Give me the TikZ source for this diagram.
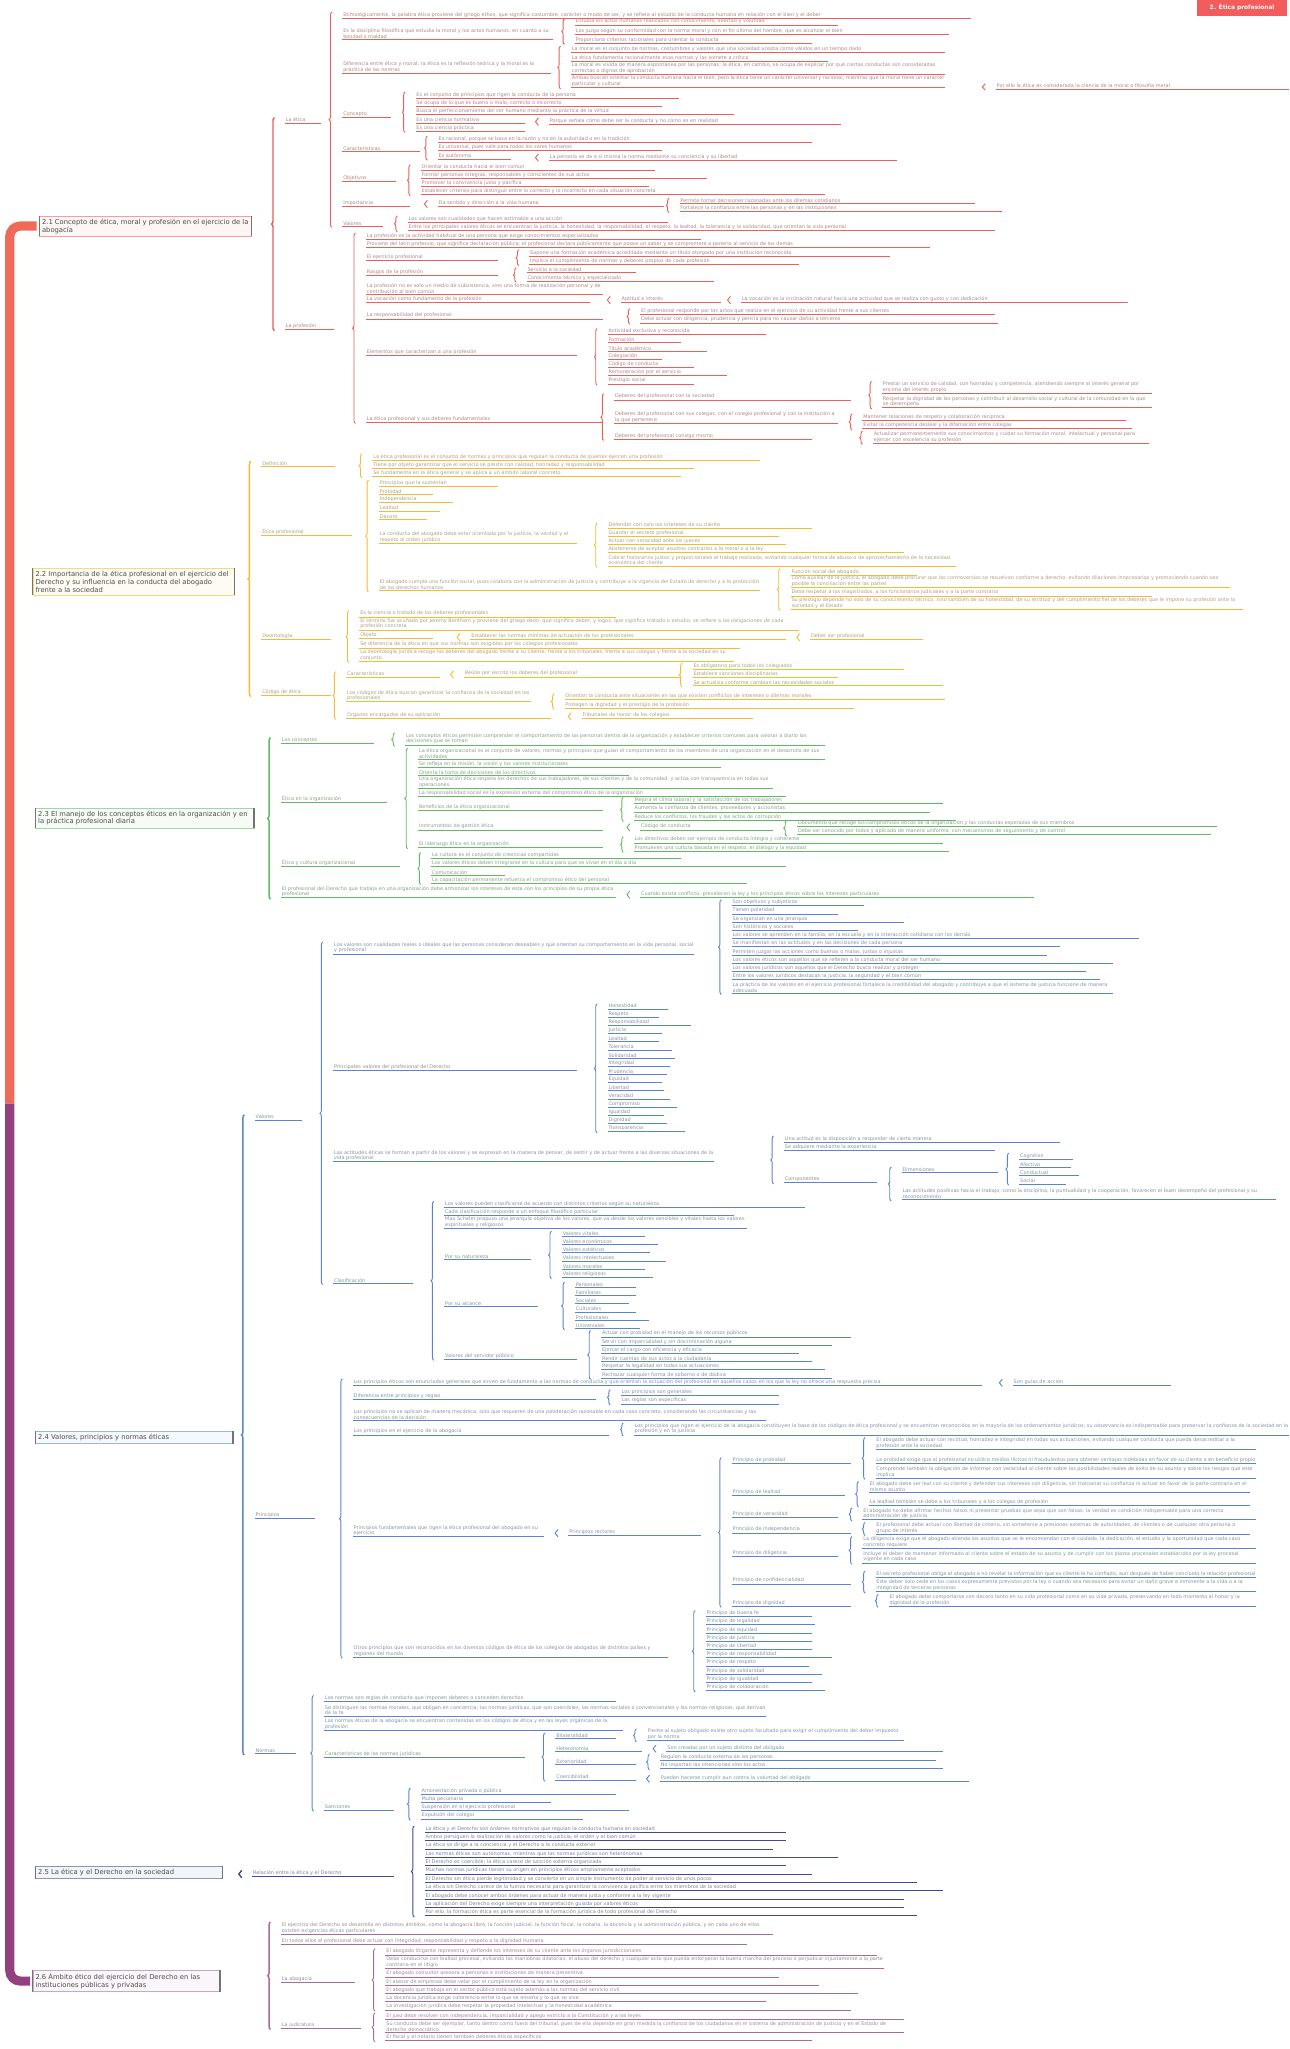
\documentclass[tikz,border=0pt]{standalone}
\usepackage{fontspec}
\setmainfont{DejaVu Sans}
\usetikzlibrary{calc,decorations.pathreplacing}
\definecolor{secA}{HTML}{E8605A}
\definecolor{secB}{HTML}{F0BE32}
\definecolor{secC}{HTML}{62B964}
\definecolor{secD}{HTML}{5B85C8}
\definecolor{secE}{HTML}{3F4C8A}
\definecolor{secF}{HTML}{A56C9A}
\definecolor{trunkA}{HTML}{F06A5A}
\definecolor{trunkB}{HTML}{93407F}
\definecolor{rootfill}{HTML}{F25C5C}
\colorlet{br}{secA}
\newcommand{\leaffont}{\fontsize{3.8}{4.4}\selectfont}
\newcommand{\secfont}{\fontsize{5.2}{6}\selectfont}
\newcommand{\twig}[5]{\node[lf=#4] (#1) at (#2,#3) {#5};}
\newcommand{\clasp}[3][]{\draw[brc,#1] ($(#3.south west)+(-8,1)$) -- ($(#2.north west)+(-8,0.5)$);}

\begin{document}
\begin{tikzpicture}[x=1pt, y=-1pt,
   lf/.style={anchor=south west, inner sep=0.5pt, text width=#1pt, align=flush left, font=\leaffont, text=br!45!black!55,
     append after command={(\tikzlastnode.south west) edge[ul] (\tikzlastnode.south east)}},
   ul/.style={draw=br, line width=0.45pt},
   brc/.style={draw=br, line width=0.7pt, decorate, decoration={brace, amplitude=2.2pt}},
   secbrc/.style={line width=1.1pt},
   secbox/.style={anchor=west, draw=br!60, fill=br!6, line width=0.35pt, inner sep=2pt, text width=#1pt, align=flush left, font=\secfont, text=black!70,
     append after command={(\tikzlastnode.north west) edge[secside] (\tikzlastnode.south west) (\tikzlastnode.north east) edge[secside] (\tikzlastnode.south east)}},
   secside/.style={draw=black!55, line width=1pt},
   trunk/.style={line width=7pt, rounded corners=8pt},
   rootbox/.style={fill=rootfill, text=white, font=\fontsize{4.5}{5}\selectfont\bfseries, minimum width=69pt, minimum height=12pt, inner sep=1pt}]
  \useasboundingbox (0,0) rectangle (987,1568);
  \fill[white] (0,0) rectangle (987,1568);
  \node[rootbox] (root) at (950.5,6) {2. Ética profesional};

  % 2.1
  \colorlet{br}{secA}
  \node[secbox=158] (s1) at (30,173) {2.1 Concepto de ética, moral y profesión en el ejercicio de la abogacía};
  \twig{aE}{218}{94}{26}{La ética}
  \twig{aP}{218}{252}{36}{La profesión}
  \clasp[secbrc]{aE}{aP}
  \twig{a1}{262}{14}{480}{Etimológicamente, la palabra ética proviene del griego ethos, que significa costumbre, carácter o modo de ser, y se refiere al estudio de la conducta humana en relación con el bien y el deber}
  \twig{a2}{262}{30}{160}{Es la disciplina filosófica que estudia la moral y los actos humanos, en cuanto a su bondad o maldad}
  \twig{a21}{440}{19}{200}{Estudia los actos humanos realizados con conocimiento, libertad y voluntad}
  \twig{a22}{440}{26}{285}{Los juzga según su conformidad con la norma moral y con el fin último del hombre, que es alcanzar el bien}
  \twig{a23}{440}{33}{180}{Proporciona criterios racionales para orientar la conducta}
  \clasp{a21}{a23}
  \twig{a3}{262}{56}{158}{Diferencia entre ética y moral: la ética es la reflexión teórica y la moral es la práctica de las normas}
  \twig{a31}{437}{40}{285}{La moral es el conjunto de normas, costumbres y valores que una sociedad acepta como válidos en un tiempo dado}
  \twig{a32}{437}{47}{195}{La ética fundamenta racionalmente esas normas y las somete a crítica}
  \twig{a33}{437}{57}{285}{La moral es vivida de manera espontánea por las personas; la ética, en cambio, se ocupa de explicar por qué ciertas conductas son consideradas correctas o dignas de aprobación}
  \twig{a34}{437}{67}{285}{Ambas buscan orientar la conducta humana hacia el bien, pero la ética tiene un carácter universal y racional, mientras que la moral tiene un carácter particular y cultural}
  \twig{a341}{762}{68}{223}{Por ello la ética es considerada la ciencia de la moral o filosofía moral}
  \clasp{a31}{a34}
  \clasp{a341}{a341}
  \twig{a4}{262}{90}{36}{Concepto}
  \twig{a41}{318}{75}{200}{Es el conjunto de principios que rigen la conducta de la persona}
  \twig{a42}{318}{81.3}{187}{Se ocupa de lo que es bueno o malo, correcto o incorrecto}
  \twig{a43}{318}{87.6}{242}{Busca el perfeccionamiento del ser humano mediante la práctica de la virtud}
  \twig{a44}{318}{94}{82}{Es una ciencia normativa}
  \twig{a441}{420}{95}{222}{Porque señala cómo debe ser la conducta y no cómo es en realidad}
  \twig{a45}{318}{100.3}{82}{Es una ciencia práctica}
  \clasp{a41}{a45}
  \clasp{a441}{a441}
  \twig{a5}{262}{116}{58}{Características}
  \twig{a51}{335}{109}{285}{Es racional, porque se basa en la razón y no en la autoridad o en la tradición}
  \twig{a52}{335}{115.3}{170}{Es universal, pues vale para todos los seres humanos}
  \twig{a53}{335}{121.6}{55}{Es autónoma}
  \twig{a531}{420}{122.5}{265}{La persona se da a sí misma la norma mediante su conciencia y su libertad}
  \clasp{a51}{a53}
  \clasp{a531}{a531}
  \twig{a6}{262}{139}{40}{Objetivos}
  \twig{a61}{322}{130}{178}{Orientar la conducta hacia el bien común}
  \twig{a62}{322}{136.3}{218}{Formar personas íntegras, responsables y conscientes de sus actos}
  \twig{a63}{322}{142.6}{173}{Promover la convivencia justa y pacífica}
  \twig{a64}{322}{149}{308}{Establecer criterios para distinguir entre lo correcto y lo incorrecto en cada situación concreta}
  \clasp{a61}{a64}
  \twig{a7}{262}{158}{50}{Importancia}
  \twig{a71}{335}{158}{172}{Da sentido y dirección a la vida humana}
  \twig{a711}{520}{155.5}{225}{Permite tomar decisiones razonadas ante los dilemas cotidianos}
  \twig{a712}{520}{161.8}{245}{Fortalece la confianza entre las personas y en las instituciones}
  \clasp{a71}{a71}
  \clasp{a711}{a712}
  \twig{a8}{262}{173}{30}{Valores}
  \twig{a81}{312}{170}{198}{Los valores son cualidades que hacen estimable a una acción}
  \twig{a82}{312}{176.3}{448}{Entre los principales valores éticos se encuentran la justicia, la honestidad, la responsabilidad, el respeto, la lealtad, la tolerancia y la solidaridad, que orientan la vida personal}
  \clasp{a81}{a82}
  \clasp{a1}{a8}
  \twig{b1}{280}{183}{255}{La profesión es la actividad habitual de una persona que exige conocimientos especializados}
  \twig{b2}{280}{189.5}{430}{Proviene del latín professio, que significa declaración pública; el profesional declara públicamente que posee un saber y se compromete a ponerlo al servicio de los demás}
  \twig{b3}{280}{199.5}{100}{El ejercicio profesional}
  \twig{b31}{405}{196}{275}{Supone una formación académica acreditada mediante un título otorgado por una institución reconocida}
  \twig{b32}{405}{202.3}{205}{Implica el cumplimiento de normas y deberes propios de cada profesión}
  \clasp{b31}{b32}
  \twig{b4}{280}{211}{100}{Rasgos de la profesión}
  \twig{b41}{403}{208.6}{82}{Servicio a la sociedad}
  \twig{b42}{403}{215}{142}{Conocimiento técnico y especializado}
  \clasp{b41}{b42}
  \twig{b5}{280}{225}{180}{La profesión no es solo un medio de subsistencia, sino una forma de realización personal y de contribución al bien común}
  \twig{b6}{280}{231.5}{170}{La vocación como fundamento de la profesión}
  \twig{b61}{475}{231.5}{75}{Aptitud e interés}
  \twig{b611}{567}{231.5}{295}{La vocación es la inclinación natural hacia una actividad que se realiza con gusto y con dedicación}
  \clasp{b61}{b61}
  \clasp{b611}{b611}
  \twig{b7}{280}{244}{180}{La responsabilidad del profesional}
  \twig{b71}{490}{240.8}{270}{El profesional responde por los actos que realiza en el ejercicio de su actividad frente a sus clientes}
  \twig{b72}{490}{247.1}{272}{Debe actuar con diligencia, prudencia y pericia para no causar daños a terceros}
  \clasp{b71}{b72}
  \twig{b8}{280}{272}{160}{Elementos que caracterizan a una profesión}
  \foreach \tx/\ww [count=\i] in {Actividad exclusiva y reconocida/120, Formación/55, Título académico/75, Colegiación/40, Código de conducta/65, Remuneración por el servicio/90, Prestigio social/65}
    {\pgfmathsetmacro\yy{249.7+6.3*\i}\twig{b8n\i}{465}{\yy}{\ww}{\tx}}
  \clasp{b8n1}{b8n7}
  \twig{b9}{280}{323}{180}{La ética profesional y sus deberes fundamentales}
  \twig{b91}{470}{306}{180}{Deberes del profesional con la sociedad}
  \twig{b911}{675}{301}{205}{Prestar un servicio de calidad, con honradez y competencia, atendiendo siempre al interés general por encima del interés propio}
  \twig{b912}{675}{312}{205}{Respetar la dignidad de las personas y contribuir al desarrollo social y cultural de la comunidad en la que se desempeña}
  \clasp{b911}{b912}
  \twig{b92}{470}{324}{170}{Deberes del profesional con sus colegas, con el colegio profesional y con la institución a la que pertenece}
  \twig{b921}{660}{321.5}{200}{Mantener relaciones de respeto y colaboración recíproca}
  \twig{b922}{660}{328}{205}{Evitar la competencia desleal y la difamación entre colegas}
  \clasp{b921}{b922}
  \twig{b93}{470}{336}{150}{Deberes del profesional consigo mismo}
  \twig{b931}{668}{339}{210}{Actualizar permanentemente sus conocimientos y cuidar su formación moral, intelectual y personal para ejercer con excelencia su profesión}
  \clasp{b931}{b931}
  \clasp{b91}{b93}
  \clasp{b1}{b9}

  % 2.2
  \colorlet{br}{secB}
  \node[secbox=150] (s2) at (25,445) {2.2 Importancia de la ética profesional en el ejercicio del Derecho y su influencia en la conducta del abogado frente a la sociedad};
  \twig{c1}{200}{357}{55}{Definición}
  \twig{c11}{285}{352}{295}{La ética profesional es el conjunto de normas y principios que regulan la conducta de quienes ejercen una profesión}
  \twig{c12}{285}{358.3}{245}{Tiene por objeto garantizar que el servicio se preste con calidad, honradez y responsabilidad}
  \twig{c13}{285}{364.6}{235}{Se fundamenta en la ética general y se aplica a un ámbito laboral concreto}
  \clasp{c11}{c13}
  \twig{c2}{200}{410}{68}{Ética profesional}
  \twig{c21}{290}{372}{90}{Principios que la sustentan}
  \twig{c22}{290}{378.3}{40}{Probidad}
  \twig{c23}{290}{384.6}{55}{Independencia}
  \twig{c24}{290}{390.9}{45}{Lealtad}
  \twig{c25}{290}{397.2}{35}{Decoro}
  \twig{c26}{290}{416}{150}{La conducta del abogado debe estar orientada por la justicia, la verdad y el respeto al orden jurídico}
  \twig{c261}{465}{404}{155}{Defender con celo los intereses de su cliente}
  \twig{c262}{465}{410.3}{130}{Guardar el secreto profesional}
  \twig{c263}{465}{416.6}{135}{Actuar con veracidad ante los jueces}
  \twig{c264}{465}{422.9}{225}{Abstenerse de aceptar asuntos contrarios a la moral o a la ley}
  \twig{c265}{465}{433}{265}{Cobrar honorarios justos y proporcionales al trabajo realizado, evitando cualquier forma de abuso o de aprovechamiento de la necesidad económica del cliente}
  \clasp{c261}{c265}
  \twig{c27}{290}{452}{290}{El abogado cumple una función social, pues colabora con la administración de justicia y contribuye a la vigencia del Estado de derecho y a la protección de los derechos humanos}
  \twig{c271}{605}{440}{95}{Función social del abogado}
  \twig{c272}{605}{449.5}{335}{Como auxiliar de la justicia, el abogado debe procurar que las controversias se resuelvan conforme a derecho, evitando dilaciones innecesarias y promoviendo cuando sea posible la conciliación entre las partes}
  \twig{c273}{605}{456}{275}{Debe respetar a los magistrados, a los funcionarios judiciales y a la parte contraria}
  \twig{c274}{605}{466}{345}{Su prestigio depende no solo de su conocimiento técnico, sino también de su honestidad, de su rectitud y del cumplimiento fiel de los deberes que le impone su profesión ante la sociedad y el Estado}
  \clasp{c271}{c274}
  \clasp{c21}{c27}
  \twig{c3}{200}{489}{52}{Deontología}
  \twig{c31}{275}{472}{195}{Es la ciencia o tratado de los deberes profesionales}
  \twig{c32}{275}{482}{335}{El término fue acuñado por Jeremy Bentham y proviene del griego deon, que significa deber, y logos, que significa tratado o estudio; se refiere a las obligaciones de cada profesión concreta}
  \twig{c33}{275}{488.5}{55}{Objeto}
  \twig{c331}{360}{489.5}{240}{Establecer las normas mínimas de actuación de los profesionales}
  \twig{c3311}{620}{489.5}{85}{Deber ser profesional}
  \clasp{c331}{c331}
  \clasp{c3311}{c3311}
  \twig{c34}{275}{495.8}{290}{Se diferencia de la ética en que sus normas son exigibles por los colegios profesionales}
  \twig{c35}{275}{506}{285}{La deontología jurídica recoge los deberes del abogado frente a su cliente, frente a los tribunales, frente a sus colegas y frente a la sociedad en su conjunto}
  \clasp{c31}{c35}
  \twig{c4}{200}{532}{52}{Código de ética}
  \twig{c41}{265}{518}{70}{Características}
  \twig{c411}{355}{518}{165}{Reúne por escrito los deberes del profesional}
  \twig{c4111}{530}{512}{160}{Es obligatorio para todos los colegiados}
  \twig{c4112}{530}{518.3}{110}{Establece sanciones disciplinarias}
  \twig{c4113}{530}{524.6}{190}{Se actualiza conforme cambian las necesidades sociales}
  \clasp{c411}{c411}
  \clasp{c4111}{c4113}
  \twig{c42}{265}{537}{140}{Los códigos de ética buscan garantizar la confianza de la sociedad en los profesionales}
  \twig{c421}{432}{535.5}{290}{Orientan la conducta ante situaciones en las que existen conflictos de intereses o dilemas morales}
  \twig{c422}{432}{541.8}{220}{Protegen la dignidad y el prestigio de la profesión}
  \clasp{c421}{c422}
  \twig{c43}{265}{549.5}{155}{Órganos encargados de su aplicación}
  \twig{c431}{445}{550}{130}{Tribunales de honor de los colegios}
  \clasp{c431}{c431}
  \clasp{c41}{c43}
  \clasp[secbrc]{c1}{c4}

  % 2.3
  \colorlet{br}{secC}
  \node[secbox=163] (s3) at (27,626) {2.3 El manejo de los conceptos éticos en la organización y en la práctica profesional diaria};
  \twig{d1}{215}{569}{70}{Los conceptos}
  \twig{d11}{310}{570}{320}{Los conceptos éticos permiten comprender el comportamiento de las personas dentro de la organización y establecer criterios comunes para valorar a diario las decisiones que se toman}
  \clasp{d11}{d11}
  \twig{d2}{215}{614}{80}{Ética en la organización}
  \twig{d21}{320}{581}{310}{La ética organizacional es el conjunto de valores, normas y principios que guían el comportamiento de los miembros de una organización en el desarrollo de sus actividades}
  \twig{d22}{320}{587.3}{230}{Se refleja en la misión, la visión y los valores institucionales}
  \twig{d23}{320}{593.6}{160}{Orienta la toma de decisiones de los directivos}
  \twig{d24}{320}{603}{270}{Una organización ética respeta los derechos de sus trabajadores, de sus clientes y de la comunidad, y actúa con transparencia en todas sus operaciones}
  \twig{d25}{320}{609.3}{280}{La responsabilidad social es la expresión externa del compromiso ético de la organización}
  \twig{d26}{320}{620}{140}{Beneficios de la ética organizacional}
  \twig{d261}{485}{615}{235}{Mejora el clima laboral y la satisfacción de los trabajadores}
  \twig{d262}{485}{621.3}{225}{Aumenta la confianza de clientes, proveedores y accionistas}
  \twig{d263}{485}{627.6}{245}{Reduce los conflictos, los fraudes y los actos de corrupción}
  \clasp{d261}{d263}
  \twig{d27}{320}{635}{140}{Instrumentos de gestión ética}
  \twig{d271}{490}{635}{100}{Código de conducta}
  \twig{d2711}{610}{632.5}{320}{Documento que recoge los compromisos éticos de la organización y las conductas esperadas de sus miembros}
  \twig{d2712}{610}{638.8}{315}{Debe ser conocido por todos y aplicado de manera uniforme, con mecanismos de seguimiento y de control}
  \clasp{d271}{d271}
  \clasp{d2711}{d2712}
  \twig{d28}{320}{648.5}{140}{El liderazgo ético en la organización}
  \twig{d281}{485}{645}{235}{Los directivos deben ser ejemplo de conducta íntegra y coherente}
  \twig{d282}{485}{651.3}{240}{Promueven una cultura basada en el respeto, el diálogo y la equidad}
  \clasp{d281}{d282}
  \clasp{d21}{d28}
  \twig{d3}{215}{663}{90}{Ética y cultura organizacional}
  \twig{d31}{330}{657}{190}{La cultura es el conjunto de creencias compartidas}
  \twig{d32}{330}{663.3}{270}{Los valores éticos deben integrarse en la cultura para que se vivan en el día a día}
  \twig{d33}{330}{669.6}{55}{Comunicación}
  \twig{d34}{330}{675.9}{240}{La capacitación permanente refuerza el compromiso ético del personal}
  \clasp{d31}{d34}
  \twig{d4}{215}{687}{255}{El profesional del Derecho que trabaja en una organización debe armonizar los intereses de esta con los principios de su propia ética profesional}
  \twig{d41}{490}{686.5}{300}{Cuando exista conflicto, prevalecen la ley y los principios éticos sobre los intereses particulares}
  \clasp{d41}{d41}
  \clasp[secbrc]{d1}{d4}

  % 2.4
  \colorlet{br}{secD}
  \node[secbox=147] (s4) at (27,1100) {2.4 Valores, principios y normas éticas};
  \twig{e1}{195}{857}{35}{Valores}
  \twig{e11}{255}{730}{275}{Los valores son cualidades reales o ideales que las personas consideran deseables y que orientan su comportamiento en la vida personal, social y profesional}
  \twig{e111}{560}{693}{100}{Son objetivos y subjetivos}
  \twig{e112}{560}{699.3}{80}{Tienen polaridad}
  \twig{e113}{560}{705.6}{130}{Se organizan en una jerarquía}
  \twig{e114}{560}{711.9}{95}{Son históricos y sociales}
  \twig{e115}{560}{718.2}{310}{Los valores se aprenden en la familia, en la escuela y en la interacción cotidiana con los demás}
  \twig{e116}{560}{724.5}{250}{Se manifiestan en las actitudes y en las decisiones de cada persona}
  \twig{e117}{560}{730.8}{240}{Permiten juzgar las acciones como buenas o malas, justas o injustas}
  \twig{e118}{560}{737.1}{290}{Los valores éticos son aquellos que se refieren a la conducta moral del ser humano}
  \twig{e119}{560}{743.4}{270}{Los valores jurídicos son aquellos que el Derecho busca realizar y proteger}
  \twig{e1110}{560}{749.7}{280}{Entre los valores jurídicos destacan la justicia, la seguridad y el bien común}
  \twig{e1111}{560}{760}{290}{La práctica de los valores en el ejercicio profesional fortalece la credibilidad del abogado y contribuye a que el sistema de justicia funcione de manera adecuada}
  \clasp{e111}{e1111}
  \twig{e12}{255}{819}{185}{Principales valores del profesional del Derecho}
  \foreach \tx/\ww [count=\i] in {Honestidad/45, Respeto/38, Responsabilidad/62, Justicia/40, Lealtad/38, Tolerancia/48, Solidaridad/50, Integridad/46, Prudencia/44, Equidad/40, Libertad/42, Veracidad/46, Compromiso/52, Igualdad/42, Dignidad/44, Transparencia/58}
    {\pgfmathsetmacro\yy{765.73+6.27*\i}\twig{e12n\i}{465}{\yy}{\ww}{\tx}}
  \clasp{e12n1}{e12n16}
  \twig{e13}{255}{889}{290}{Las actitudes éticas se forman a partir de los valores y se expresan en la manera de pensar, de sentir y de actuar frente a las diversas situaciones de la vida profesional}
  \twig{e131}{600}{874}{210}{Una actitud es la disposición a responder de cierta manera}
  \twig{e132}{600}{880.3}{160}{Se adquiere mediante la experiencia}
  \twig{e133}{600}{905}{70}{Componentes}
  \twig{e1331}{690}{897}{72}{Dimensiones}
  \foreach \tx/\ww [count=\i] in {Cognitivo/40, Afectivo/38, Conductual/44, Social/34}
    {\pgfmathsetmacro\yy{880.7+6.3*\i}\twig{e1331n\i}{780}{\yy}{\ww}{\tx}}
  \clasp{e1331n1}{e1331n4}
  \twig{e1332}{690}{918}{285}{Las actitudes positivas hacia el trabajo, como la disciplina, la puntualidad y la cooperación, favorecen el buen desempeño del profesional y su reconocimiento}
  \clasp{e1331}{e1332}
  \clasp{e131}{e133}
  \twig{e14}{255}{982}{60}{Clasificación}
  \twig{e141}{340}{924}{275}{Los valores pueden clasificarse de acuerdo con distintos criterios según su naturaleza}
  \twig{e142}{340}{930.3}{220}{Cada clasificación responde a un enfoque filosófico particular}
  \twig{e143}{340}{940}{230}{Max Scheler propuso una jerarquía objetiva de los valores, que va desde los valores sensibles y vitales hasta los valores espirituales y religiosos}
  \twig{e144}{340}{964}{65}{Por su naturaleza}
  \foreach \tx/\ww [count=\i] in {Valores vitales/62, Valores económicos/72, Valores estéticos/66, Valores intelectuales/78, Valores morales/62, Valores religiosos/68}
    {\pgfmathsetmacro\yy{939.7+6.3*\i}\twig{e144n\i}{430}{\yy}{\ww}{\tx}}
  \clasp{e144n1}{e144n6}
  \twig{e145}{340}{1000}{70}{Por su alcance}
  \foreach \tx/\ww [count=\i] in {Personales/45, Familiares/45, Sociales/40, Culturales/45, Profesionales/55, Universales/48}
    {\pgfmathsetmacro\yy{978.7+6.3*\i}\twig{e145n\i}{440}{\yy}{\ww}{\tx}}
  \clasp{e145n1}{e145n6}
  \twig{e146}{340}{1040}{100}{Valores del servidor público}
  \foreach \tx/\ww [count=\i] in {Actuar con probidad en el manejo de los recursos públicos/190, Servir con imparcialidad y sin discriminación alguna/175, Ejercer el cargo con eficiencia y eficacia/150, Rendir cuentas de sus actos a la ciudadanía/160, Respetar la legalidad en todas sus actuaciones/170, Rechazar cualquier forma de soborno o de dádiva/175}
    {\pgfmathsetmacro\yy{1016.7+6.3*\i}\twig{e146n\i}{460}{\yy}{\ww}{\tx}}
  \clasp{e146n1}{e146n6}
  \clasp{e141}{e146}
  \clasp{e11}{e14}
  \twig{e2}{195}{1162}{45}{Principios}
  \twig{e21}{270}{1060}{480}{Los principios éticos son enunciados generales que sirven de fundamento a las normas de conducta y que orientan la actuación del profesional en aquellos casos en los que la ley no ofrece una respuesta precisa}
  \twig{e211}{775}{1060}{120}{Son guías de acción}
  \clasp{e211}{e211}
  \twig{e22}{270}{1071}{185}{Diferencia entre principios y reglas}
  \twig{e221}{475}{1068}{120}{Los principios son generales}
  \twig{e222}{475}{1074.3}{120}{Las reglas son específicas}
  \clasp{e221}{e222}
  \twig{e23}{270}{1087}{315}{Los principios no se aplican de manera mecánica, sino que requieren de una ponderación razonable en cada caso concreto, considerando las circunstancias y las consecuencias de la decisión}
  \twig{e24}{270}{1098}{195}{Los principios en el ejercicio de la abogacía}
  \twig{e241}{485}{1098}{500}{Los principios que rigen el ejercicio de la abogacía constituyen la base de los códigos de ética profesional y se encuentran reconocidos en la mayoría de los ordenamientos jurídicos; su observancia es indispensable para preservar la confianza de la sociedad en la profesión y en la justicia}
  \clasp{e241}{e241}
  \twig{e25}{270}{1176}{145}{Principios fundamentales que rigen la ética profesional del abogado en su ejercicio}
  \twig{e251}{435}{1175}{100}{Principios rectores}
  \clasp{e251}{e251}
  \twig{e2511}{560}{1120}{90}{Principio de probidad}
  \twig{e2511a}{670}{1109}{290}{El abogado debe actuar con rectitud, honradez e integridad en todas sus actuaciones, evitando cualquier conducta que pueda desacreditar a la profesión ante la sociedad}
  \twig{e2511b}{670}{1120}{290}{La probidad exige que el profesional no utilice medios ilícitos ni fraudulentos para obtener ventajas indebidas en favor de su cliente o en beneficio propio}
  \twig{e2511c}{670}{1131}{290}{Comprende también la obligación de informar con veracidad al cliente sobre las posibilidades reales de éxito de su asunto y sobre los riesgos que este implica}
  \clasp{e2511a}{e2511c}
  \twig{e2512}{560}{1144}{85}{Principio de lealtad}
  \twig{e2512a}{665}{1142}{290}{El abogado debe ser leal con su cliente y defender sus intereses con diligencia, sin traicionar su confianza ni actuar en favor de la parte contraria en el mismo asunto}
  \twig{e2512b}{665}{1152}{290}{La lealtad también se debe a los tribunales y a los colegas de profesión}
  \clasp{e2512a}{e2512b}
  \twig{e2513}{560}{1161}{80}{Principio de veracidad}
  \twig{e2513a}{660}{1163}{300}{El abogado no debe afirmar hechos falsos ni presentar pruebas que sepa que son falsas; la verdad es condición indispensable para una correcta administración de justicia}
  \clasp{e2513a}{e2513a}
  \twig{e2514}{560}{1173}{90}{Principio de independencia}
  \twig{e2514a}{670}{1174}{285}{El profesional debe actuar con libertad de criterio, sin someterse a presiones externas de autoridades, de clientes o de cualquier otra persona o grupo de interés}
  \clasp{e2514a}{e2514a}
  \twig{e2515}{560}{1191}{80}{Principio de diligencia}
  \twig{e2515a}{660}{1185}{300}{La diligencia exige que el abogado atienda los asuntos que se le encomiendan con el cuidado, la dedicación, el estudio y la oportunidad que cada caso concreto requiere}
  \twig{e2515b}{660}{1196}{300}{Incluye el deber de mantener informado al cliente sobre el estado de su asunto y de cumplir con los plazos procesales establecidos por la ley procesal vigente en cada caso}
  \clasp{e2515a}{e2515b}
  \twig{e2516}{560}{1212}{90}{Principio de confidencialidad}
  \twig{e2516a}{670}{1207}{290}{El secreto profesional obliga al abogado a no revelar la información que su cliente le ha confiado, aun después de haber concluido la relación profesional}
  \twig{e2516b}{670}{1218}{290}{Este deber solo cede en los casos expresamente previstos por la ley o cuando sea necesario para evitar un daño grave e inminente a la vida o a la integridad de terceras personas}
  \clasp{e2516a}{e2516b}
  \twig{e2517}{560}{1229}{90}{Principio de dignidad}
  \twig{e2517a}{680}{1229}{280}{El abogado debe comportarse con decoro tanto en su vida profesional como en su vida privada, preservando en todo momento el honor y la dignidad de la profesión}
  \clasp{e2517a}{e2517a}
  \clasp{e2511}{e2517}
  \twig{e26}{270}{1268}{240}{Otros principios que son reconocidos en los diversos códigos de ética de los colegios de abogados de distintos países y regiones del mundo}
  \foreach \tx/\ww [count=\i] in {Principio de buena fe/80, Principio de legalidad/82, Principio de equidad/80, Principio de justicia/80, Principio de libertad/80, Principio de responsabilidad/95, Principio de respeto/78, Principio de solidaridad/88, Principio de igualdad/80, Principio de colaboración/90}
    {\pgfmathsetmacro\yy{1230.7+6.3*\i}\twig{e26n\i}{540}{\yy}{\ww}{\tx}}
  \clasp{e26n1}{e26n10}
  \clasp{e21}{e26}
  \twig{e3}{195}{1342}{30}{Normas}
  \twig{e31}{248}{1302}{222}{Las normas son reglas de conducta que imponen deberes o conceden derechos}
  \twig{e32}{248}{1313}{337}{Se distinguen las normas morales, que obligan en conciencia; las normas jurídicas, que son coercibles; las normas sociales o convencionales y las normas religiosas, que derivan de la fe}
  \twig{e33}{248}{1324}{227}{Las normas éticas de la abogacía se encuentran contenidas en los códigos de ética y en las leyes orgánicas de la profesión}
  \twig{e34}{248}{1345}{152}{Características de las normas jurídicas}
  \twig{e341}{425}{1330}{45}{Bilateralidad}
  \twig{e341a}{495}{1332}{195}{Frente al sujeto obligado existe otro sujeto facultado para exigir el cumplimiento del deber impuesto por la norma}
  \twig{e342}{425}{1340}{65}{Heteronomía}
  \twig{e342a}{510}{1340}{210}{Son creadas por un sujeto distinto del obligado}
  \twig{e343}{425}{1350}{60}{Exterioridad}
  \twig{e343a}{505}{1347}{210}{Regulan la conducta externa de las personas}
  \twig{e343b}{505}{1353.3}{215}{No importan las intenciones sino los actos}
  \twig{e344}{425}{1362}{60}{Coercibilidad}
  \twig{e344a}{505}{1363}{235}{Pueden hacerse cumplir aun contra la voluntad del obligado}
  \clasp{e341a}{e341a}
  \clasp{e342a}{e342a}
  \clasp{e343a}{e343b}
  \clasp{e344a}{e344a}
  \clasp{e341}{e344}
  \twig{e35}{248}{1385}{52}{Sanciones}
  \foreach \tx/\ww [count=\i] in {Amonestación privada o pública/148, Multa pecuniaria/98, Suspensión en el ejercicio profesional/158, Expulsión del colegio/123}
    {\pgfmathsetmacro\yy{1366.7+6.3*\i}\twig{e35n\i}{322}{\yy}{\ww}{\tx}}
  \clasp{e35n1}{e35n4}
  \clasp{e31}{e35}
  \clasp[secbrc]{e1}{e3}

  % 2.5
  \colorlet{br}{secE}
  \node[secbox=139] (s5) at (27,1433) {2.5 La ética y el Derecho en la sociedad};
  \twig{f1}{193}{1436}{107}{Relación entre la ética y el Derecho}
  \clasp[secbrc]{f1}{f1}
  \foreach \tx/\ww [count=\i] in {La ética y el Derecho son órdenes normativos que regulan la conducta humana en sociedad/275,
      {Ambos persiguen la realización de valores como la justicia, el orden y el bien común}/275,
      La ética se dirige a la conciencia y el Derecho a la conducta exterior/265,
      {Las normas éticas son autónomas, mientras que las normas jurídicas son heterónomas}/315,
      El Derecho es coercible; la ética carece de sanción externa organizada/275,
      Muchas normas jurídicas tienen su origen en principios éticos ampliamente aceptados/295,
      El Derecho sin ética pierde legitimidad y se convierte en un simple instrumento de poder al servicio de unos pocos/375,
      La ética sin Derecho carece de la fuerza necesaria para garantizar la convivencia pacífica entre los miembros de la sociedad/395,
      El abogado debe conocer ambos órdenes para actuar de manera justa y conforme a la ley vigente/365,
      La aplicación del Derecho exige siempre una interpretación guiada por valores éticos/365,
      {Por ello, la formación ética es parte esencial de la formación jurídica de todo profesional del Derecho}/375}
    {\pgfmathsetmacro\yy{1395.6+6.4*\i}\twig{f1n\i}{325}{\yy}{\ww}{\tx}}
  \clasp{f1n1}{f1n11}

  % 2.6
  \colorlet{br}{secF}
  \node[secbox=139] (s6) at (25,1516) {2.6 Ámbito ético del ejercicio del Derecho en las instituciones públicas y privadas};
  \twig{g1}{215}{1480}{375}{El ejercicio del Derecho se desarrolla en distintos ámbitos, como la abogacía libre, la función judicial, la función fiscal, la notaría, la docencia y la administración pública, y en cada uno de ellos existen exigencias éticas particulares}
  \twig{g2}{215}{1488}{355}{En todos ellos el profesional debe actuar con integridad, responsabilidad y respeto a la dignidad humana}
  \twig{g3}{215}{1517}{55}{La abogacía}
  \twig{g31}{295}{1496}{375}{El abogado litigante representa y defiende los intereses de su cliente ante los órganos jurisdiccionales}
  \twig{g32}{295}{1506.5}{380}{Debe conducirse con lealtad procesal, evitando las maniobras dilatorias, el abuso del derecho y cualquier acto que pueda entorpecer la buena marcha del proceso o perjudicar injustamente a la parte contraria en el litigio}
  \twig{g33}{295}{1512.8}{300}{El abogado consultor asesora a personas e instituciones de manera preventiva}
  \twig{g34}{295}{1519.1}{330}{El asesor de empresas debe velar por el cumplimiento de la ley en la organización}
  \twig{g35}{295}{1525.4}{360}{El abogado que trabaja en el sector público está sujeto además a las normas del servicio civil}
  \twig{g36}{295}{1531.7}{290}{La docencia jurídica exige coherencia entre lo que se enseña y lo que se vive}
  \twig{g37}{295}{1538}{355}{La investigación jurídica debe respetar la propiedad intelectual y la honestidad académica}
  \clasp{g31}{g37}
  \twig{g4}{215}{1552}{60}{La judicatura}
  \twig{g41}{295}{1545}{395}{El juez debe resolver con independencia, imparcialidad y apego estricto a la Constitución y a las leyes}
  \twig{g42}{295}{1555}{395}{Su conducta debe ser ejemplar, tanto dentro como fuera del tribunal, pues de ella depende en gran medida la confianza de los ciudadanos en el sistema de administración de justicia y en el Estado de derecho democrático}
  \twig{g43}{295}{1561.5}{325}{El fiscal y el notario tienen también deberes éticos específicos}
  \clasp{g41}{g43}
  \clasp[secbrc]{g1}{g4}

  % trunk
  \coordinate (mid) at ($(s1.west)!0.5!(s6.west)$);
  \draw[trunk, draw=trunkA] ($(s1.west)+(-2,0)$) -| ([xshift=-20pt]mid);
  \draw[trunk, draw=trunkB] ([xshift=-20pt]mid) |- ($(s6.west)+(-2,0)$);
\end{tikzpicture}
\end{document}
